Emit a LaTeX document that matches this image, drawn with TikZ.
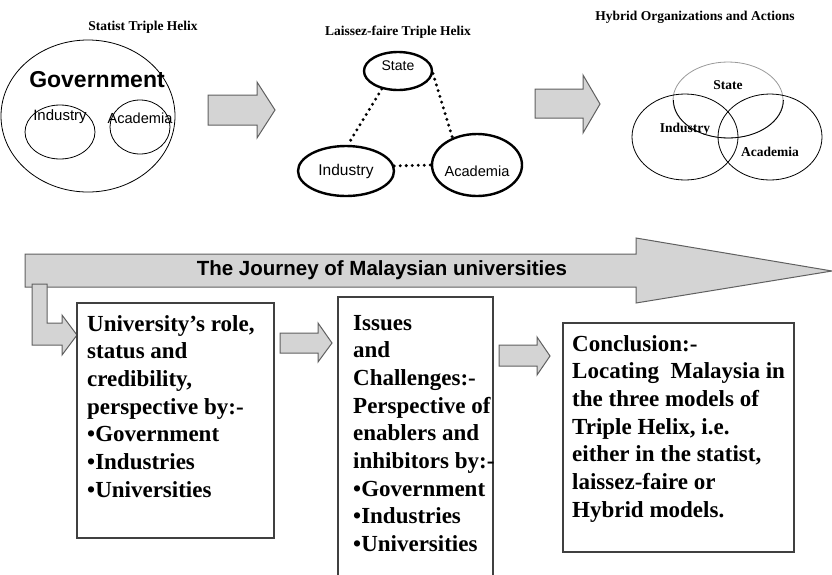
\documentclass[tikz,border=0pt]{standalone}
\usepackage{fontspec}
\setmainfont{Liberation Serif}
\newfontfamily\arialf{Liberation Sans}
\usetikzlibrary{shapes.geometric}
\definecolor{arrowfill}{HTML}{D4D4D4}
\definecolor{arrowline}{HTML}{606060}
\definecolor{boxline}{HTML}{404040}
\tikzset{
 thinell/.style={ellipse,draw=black,line width=0.8pt,inner sep=0pt},
 thickell/.style={ellipse,draw=black,line width=2.4pt,inner sep=0pt},
 blockarrow/.style={fill=arrowfill,draw=arrowline,line width=1pt,line join=miter},
 titletext/.style={font=\fontsize{13.5}{16}\selectfont\bfseries,inner sep=0pt},
 sanslabel/.style={font=\arialf\fontsize{15}{18}\selectfont,inner sep=0pt},
 seriflabel/.style={font=\fontsize{13.5}{16}\selectfont\bfseries,inner sep=0pt},
 textbox/.style={rectangle,draw=boxline,line width=1.1pt,inner sep=0pt},
 boxtext/.style={anchor=base west,inner sep=0pt,font=\fontsize{23}{27.7}\selectfont\bfseries},
 dotline/.style={line width=3.3pt,dash pattern=on 0pt off 6pt,line cap=round},
}
\begin{document}
\begin{tikzpicture}[x=1pt,y=-1pt]
\useasboundingbox (0,0) rectangle (832,574);

% ---------- Statist Triple Helix ----------
\node[titletext] (t1) at (143,27) {Statist Triple Helix};
\node[thinell,minimum width=174pt,minimum height=152pt] (gov) at (88,116) {};
\node[thinell,minimum width=70pt,minimum height=54pt] (sind) at (60,132) {};
\node[thinell,minimum width=60pt,minimum height=54pt] (sacad) at (140,127) {};
\node[font=\arialf\bfseries\fontsize{23}{26}\selectfont,inner sep=0pt] (govlbl) at (97,80) {Government};
\node[sanslabel] (sindlbl) at (60,117) {Industry};
\node[sanslabel,font=\arialf\fontsize{14.6}{17}\selectfont] (sacadlbl) at (140,118) {Academia};

% arrow 1
\draw[blockarrow] (208,95) -- (257,95) -- (257,82) -- (275,110) -- (257,138) -- (257,125) -- (208,125) -- cycle;

% ---------- Laissez-faire Triple Helix ----------
\node[titletext] (t2) at (398,32) {Laissez-faire Triple Helix};
\node[thickell,minimum width=68pt,minimum height=38pt] (lstate) at (398,71) {};
\node[thickell,minimum width=96pt,minimum height=50pt] (lind) at (346,171) {};
\node[thickell,minimum width=90pt,minimum height=62pt] (lacad) at (477,165) {};
\node[sanslabel,font=\arialf\fontsize{14}{17}\selectfont] (lstatelbl) at (398,66) {State};
\node[sanslabel,font=\arialf\fontsize{15.5}{18}\selectfont] (lindlbl) at (346,171) {Industry};
\node[sanslabel,font=\arialf\fontsize{14.6}{17}\selectfont] (lacadlbl) at (477,171) {Academia};
\draw[dotline] (lstate.228) -- (lind.86);
\draw[dotline] (lstate.356) -- (lacad.132);
\draw[dotline] (lind.6) -- (lacad.west);

% arrow 2
\draw[blockarrow] (535,89) -- (583,89) -- (583,75) -- (600,104) -- (583,133) -- (583,118) -- (535,118) -- cycle;

% ---------- Hybrid ----------
\node[titletext] (t3) at (695,17) {Hybrid Organizations and Actions};
\node[thinell,draw=black!40,minimum width=110pt,minimum height=76pt] (hstate) at (728,100) {};
\draw[line width=0.8pt] (hstate.east) arc[start angle=0,end angle=-180,x radius=55pt,y radius=38pt];
\node[thinell,minimum width=106pt,minimum height=86pt] (hind) at (685,137) {};
\node[thinell,minimum width=104pt,minimum height=86pt] (hacad) at (770,137) {};
\node[seriflabel] (hstatelbl) at (728,85) {State};
\node[seriflabel] (hindlbl) at (685,129) {Industry};
\node[seriflabel] (hacadlbl) at (770,152) {Academia};

% ---------- Journey arrow ----------
\draw[blockarrow] (25,254) -- (636,254) -- (636,238) -- (832,271) -- (636,303) -- (636,287) -- (25,287) -- cycle;
\node[font=\arialf\bfseries\fontsize{20.5}{24}\selectfont,inner sep=0pt] (journey) at (382,270) {The Journey of Malaysian universities};
\draw[blockarrow] (32,284) -- (47,284) -- (47,323) -- (62,323) -- (62,315) -- (77,335) -- (62,355) -- (62,345) -- (32,345) -- cycle;

% ---------- Boxes ----------
\node[textbox,minimum width=197pt,minimum height=235pt] (box1) at (175.5,420.5) {};
\node[boxtext] (box1txt) at (87,331) {\parbox[t]{300pt}{\raggedright
University’s role,\\ status and\\ credibility,\\ perspective by:-\\ •Government\\ •Industries\\ •Universities}};

\draw[blockarrow] (280,333) -- (318,333) -- (318,323) -- (332,343) -- (318,362) -- (318,353) -- (280,353) -- cycle;

\node[textbox,minimum width=155pt,minimum height=293pt] (box2) at (415.5,443.5) {};
\node[boxtext] (box2txt) at (353,330) {\parbox[t]{300pt}{\raggedright
Issues\\ and\\ Challenges:-\\ Perspective of\\ enablers and\\ inhibitors by:-\\ •Government\\ •Industries\\ •Universities}};

\draw[blockarrow] (499,345) -- (537,345) -- (537,337) -- (550,356) -- (537,375) -- (537,366) -- (499,366) -- cycle;

\node[textbox,minimum width=231pt,minimum height=229pt] (box3) at (678.5,437.5) {};
\node[boxtext] (box3txt) at (572,351) {\parbox[t]{300pt}{\raggedright
Conclusion:-\\ Locating\ \ Malaysia in\\ the three models of\\ Triple Helix, i.e.\\ either in the statist,\\ laissez-faire or\\ Hybrid models.}};
\end{tikzpicture}
\end{document}
